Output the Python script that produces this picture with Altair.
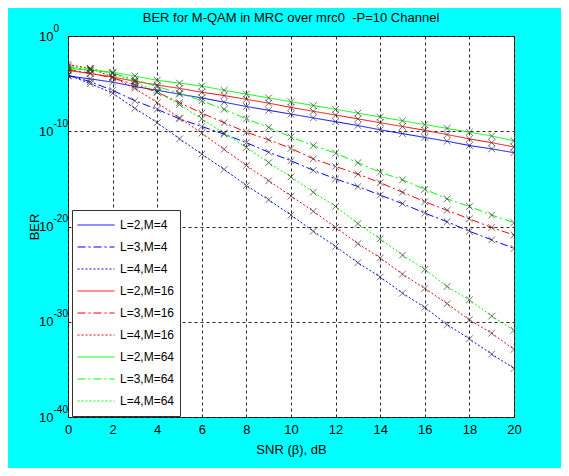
import altair as alt
import pandas as pd

snr = list(range(21))

series_names = ["L=2,M=4", "L=3,M=4", "L=4,M=4",
                "L=2,M=16", "L=3,M=16", "L=4,M=16",
                "L=2,M=64", "L=3,M=64", "L=4,M=64"]

# log10(BER) at SNR = 0..20 dB
exp_L2_M4 = [-4.2, -4.5, -4.85, -5.3, -5.7, -6.1, -6.5, -6.95, -7.4, -7.8, -8.2,
             -8.6, -9.0, -9.4, -9.85, -10.25, -10.65, -11.05, -11.5, -11.85, -12.25]
exp_L3_M4 = [-4.1, -4.8, -5.7, -6.8, -7.7, -8.7, -9.5, -10.3, -11.2, -12.2, -13.1,
             -14.1, -15.0, -15.8, -16.7, -17.6, -18.6, -19.5, -20.5, -21.4, -22.3]
exp_L4_M4 = [-4.1, -5.0, -6.0, -7.6, -9.1, -10.8, -12.4, -14.0, -15.7, -17.2, -18.8,
             -20.5, -22.1, -23.8, -25.3, -27.0, -28.5, -30.3, -31.8, -33.4, -34.9]
exp_L2_M16 = [-3.6, -3.95, -4.3, -4.75, -5.15, -5.5, -5.9, -6.25, -6.65, -7.05, -7.5,
              -7.9, -8.3, -8.7, -9.1, -9.5, -9.9, -10.35, -10.8, -11.2, -11.65]
exp_L3_M16 = [-3.5, -3.9, -4.4, -5.1, -5.9, -7.0, -8.1, -9.1, -10.1, -10.9, -11.8,
              -12.9, -13.7, -14.5, -15.4, -16.4, -17.4, -18.3, -19.2, -20.1, -20.9]
exp_L4_M16 = [-3.0, -3.4, -4.3, -5.5, -7.0, -8.6, -10.2, -11.9, -13.6, -15.2, -16.8,
              -18.4, -20.1, -21.8, -23.3, -25.0, -26.5, -28.1, -29.8, -31.2, -32.9]
exp_L2_M64 = [-3.4, -3.6, -3.8, -4.2, -4.65, -4.95, -5.25, -5.7, -6.1, -6.5, -6.9,
              -7.3, -7.7, -8.1, -8.5, -8.9, -9.3, -9.7, -10.1, -10.5, -11.0]
exp_L3_M64 = [-3.3, -3.5, -3.9, -4.6, -5.3, -6.0, -6.8, -7.7, -8.7, -9.6, -10.6,
              -11.5, -12.3, -13.3, -14.3, -15.1, -16.1, -17.1, -17.9, -18.8, -19.6]
exp_L4_M64 = [-3.2, -3.4, -3.9, -4.8, -5.9, -7.2, -8.7, -10.2, -11.7, -13.3, -14.8,
              -16.4, -17.9, -19.7, -21.3, -23.0, -24.5, -26.3, -27.7, -29.4, -30.9]

all_exps = [exp_L2_M4, exp_L3_M4, exp_L4_M4,
            exp_L2_M16, exp_L3_M16, exp_L4_M16,
            exp_L2_M64, exp_L3_M64, exp_L4_M64]

line_colors = ["#0000FF", "#0000FF", "#0000FF",
               "#FF0000", "#FF0000", "#FF0000",
               "#00FF00", "#00FF00", "#00FF00"]
line_dashes = [[1, 0], [8, 3, 2, 3], [2, 2]] * 3

x_ticks = [0, 2, 4, 6, 8, 10, 12, 14, 16, 18, 20]
y_ticks = [1e-40, 1e-30, 1e-20, 1e-10, 1e0]
y_tick_exponents = ["-40", "-30", "-20", "-10", "0"]

rows = []
for name, exps in zip(series_names, all_exps):
    for s, e in zip(snr, exps):
        rows.append({"snr": s, "ber": 10.0 ** e, "series": name})
df = pd.DataFrame(rows)

# label expression for the exponent of the y ticks
expr = ""
for v, lab in zip(y_ticks[:-1], y_tick_exponents[:-1]):
    expr += f"datum.value < {v * 10 ** 5:g} ? '{lab}' : "
expr += f"'{y_tick_exponents[-1]}'"

FONT = "Liberation Sans Narrow, Liberation Sans, Arial"

x_axis = alt.Axis(values=x_ticks, title="SNR (\u03b2), dB", grid=True,
                  gridDash=[3, 3], gridColor="#000", gridOpacity=0.85,
                  ticks=False, tickSize=0, domain=False, labelPadding=6,
                  labelFont=FONT, labelFontSize=13, labelColor="#000",
                  titleFont=FONT, titleFontSize=13, titleFontWeight="normal",
                  titleColor="#000", titlePadding=7, labelFlush=False)

y_scale = alt.Scale(type="log", domain=[1e-40, 1], nice=False)

y_axis_main = alt.Axis(values=y_ticks, labelExpr="'10'", title="BER", grid=True,
                       gridDash=[3, 3], gridColor="#000", gridOpacity=0.85,
                       ticks=False, tickSize=0, domain=False, labelPadding=15,
                       labelFont=FONT, labelFontSize=13, labelColor="#000",
                       titleFont=FONT, titleFontSize=13, titleFontWeight="normal",
                       titleColor="#000", titlePadding=-3, labelFlush=False)

y_axis_exp = alt.Axis(values=y_ticks, labelExpr=expr, title=None, grid=False,
                      ticks=False, tickSize=0, domain=False, labelPadding=15,
                      labelAlign="left", labelBaseline="line-bottom",
                      labelLineHeight=16,
                      labelFont=FONT, labelFontSize=10, labelColor="#000",
                      labelFlush=False, orient="left")

legend_kw = dict(orient="none", legendX=4, legendY=174, title=None,
                 fillColor="white", strokeColor="#333", padding=5,
                 symbolType="stroke", symbolSize=1369, clipHeight=20,
                 symbolStrokeWidth=1, labelFont=FONT, labelFontSize=12,
                 labelColor="#000", rowPadding=2, labelOffset=5)

lines = alt.Chart(df).mark_line(strokeWidth=1, clip=True).encode(
    x=alt.X("snr:Q", scale=alt.Scale(domain=[0, 20], nice=False), axis=x_axis),
    y=alt.Y("ber:Q", scale=y_scale, axis=y_axis_main),
    color=alt.Color("series:N",
                    scale=alt.Scale(domain=series_names, range=line_colors),
                    legend=alt.Legend(**legend_kw)),
    strokeDash=alt.StrokeDash("series:N",
                              scale=alt.Scale(domain=series_names, range=line_dashes),
                              legend=alt.Legend(**legend_kw)),
    detail="series:N",
)

markers = alt.Chart(df).mark_point(shape="M-1,-1L1,1M-1,1L1,-1", filled=False,
                                   stroke="#333", strokeWidth=1, size=45,
                                   clip=True).encode(
    x=alt.X("snr:Q", axis=x_axis),
    y=alt.Y("ber:Q", axis=y_axis_exp),
)

chart = alt.layer(lines, markers).resolve_axis(y="independent").properties(
    width=446, height=381,
    title=alt.TitleParams("BER for M-QAM in MRC over mrc0\u00a0 -P=10 Channel",
                          font=FONT, fontSize=13, fontWeight="normal", color="#000",
                          anchor="middle", offset=-2),
    autosize=alt.AutoSizeParams(type="none"),
    padding={"left": 60, "top": 28, "right": 47, "bottom": 51},
    background="#00FFFF",
).configure_view(stroke="#333", strokeWidth=1, fill="white")

chart.save("out.html", embed_options={"renderer": "svg", "actions": False})
